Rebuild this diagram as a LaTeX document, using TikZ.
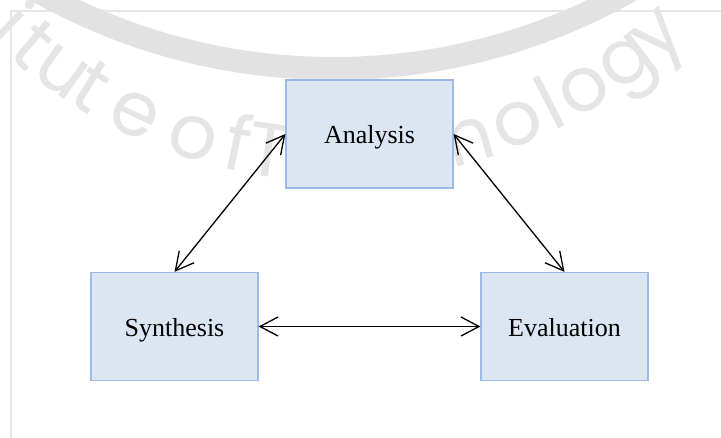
\documentclass[tikz,border=0pt]{standalone}
\usepackage{fontspec}
\setmainfont{Liberation Serif}
\newfontfamily\sealfont{Poppins}
\usetikzlibrary{arrows.meta}

\definecolor{boxfill}{RGB}{220,230,242}
\definecolor{boxline}{RGB}{157,186,228}
\definecolor{framegray}{RGB}{230,230,230}
\definecolor{ringgray}{RGB}{226,226,226}
\definecolor{lettergray}{RGB}{229,229,229}

\begin{document}
\begin{tikzpicture}[x=1pt,y=-1pt,
  stage/.style={draw=boxline, line width=1.2pt, fill=boxfill,
    minimum width=167pt, minimum height=108pt, inner sep=0pt,
    text height=20pt, text depth=0pt,
    font=\fontsize{26}{30}\selectfont},
  sealchar/.style={inner sep=0pt, anchor=base, text=lettergray,
    font=\sealfont\fontsize{76}{76}\selectfont},
  barb/.tip={Straight Barb[length=18pt,width=19pt]},
  link/.style={barb-barb, line width=1.3pt, black},
]
\useasboundingbox (0,0) rectangle (721,438);
\fill[white] (0,0) rectangle (721,438);

\begin{scope}
  \clip (0,0) rectangle (721,438);
  % page frame
  \draw[framegray, line width=1.5pt] (11,450) -- (11,11) -- (740,11);
  % seal ring
  \draw[ringgray, line width=23pt] (333.5,-535.5) circle[radius=604pt];
  % seal lettering, one glyph at a time along the lower rim
  \foreach \ang/\ch [count=\k] in {134.0/i, 130.2/t, 125.6/u, 121.5/t, 115.3/e,
      107.7/o, 102.1/f, 98.3/T, 73.6/n, 67.4/o, 62.9/l, 58.4/o, 52.3/g, 47.2/y}
    \node[sealchar, rotate=90-\ang] (seal\k)
      at ({336.4+494*cos(\ang)}, {-312.6+494*sin(\ang)}) {\ch};
\end{scope}

% the three stages
\node[stage] (analysis)   at (369.5,134)   {Analysis};
\node[stage] (synthesis)  at (174.5,326.5) {Synthesis};
\node[stage] (evaluation) at (564.5,326.5) {Evaluation};

% two-way links
\draw[link] (analysis.west)  -- (synthesis.north);
\draw[link] (analysis.east)  -- (evaluation.north);
\draw[link] (synthesis.east) -- (evaluation.west);
\end{tikzpicture}
\end{document}
